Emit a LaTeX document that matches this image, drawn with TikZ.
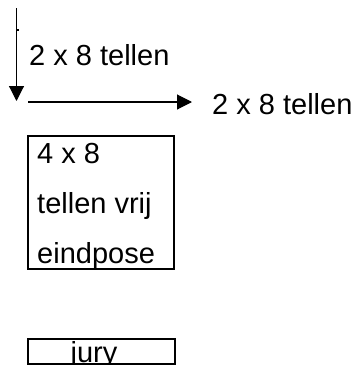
\documentclass[tikz,border=0pt]{standalone}
\usepackage{fontspec}
\setmainfont{Liberation Sans}
\usetikzlibrary{arrows.meta}
\begin{document}
\begin{tikzpicture}[x=1bp,y=-1bp,
  lbl/.style={inner sep=0pt,anchor=base west,font=\fontsize{29bp}{35bp}\selectfont},
  arr/.style={line width=1.1bp,-{Triangle[length=15bp,width=15bp]}},
  boxline/.style={draw,line width=1.2bp}]
\useasboundingbox (0,0) rectangle (357,366);
% arrows
\coordinate (v1) at (16.5,8);
\coordinate (v2) at (16.5,101);
\draw[arr] (v1) -- (v2);
\coordinate (t1) at (17,30);
\coordinate (t2) at (19,30);
\draw[line width=1.1bp] (t1) -- (t2);
\coordinate (h1) at (28,102);
\coordinate (h2) at (192,102);
\draw[arr] (h1) -- (h2);
\node[lbl] (l1) at (29,65) {2 x 8 tellen};
\node[lbl] (l2) at (212,114) {2 x 8 tellen};
% box 4x8
\draw[boxline] (28,136) rectangle (174,269);
\node[lbl] (b1) at (37,163) {4 x 8};
\node[lbl] (b2) at (37,213) {tellen vrij};
\node[lbl] (b3) at (37,263) {eindpose};
% jury
\begin{scope}
\clip (28,339) rectangle (175,364);
\node[lbl,anchor=base] (jury) at (94,362) {jury};
\end{scope}
\draw[boxline] (28,339) rectangle (175,364);
\end{tikzpicture}
\end{document}
